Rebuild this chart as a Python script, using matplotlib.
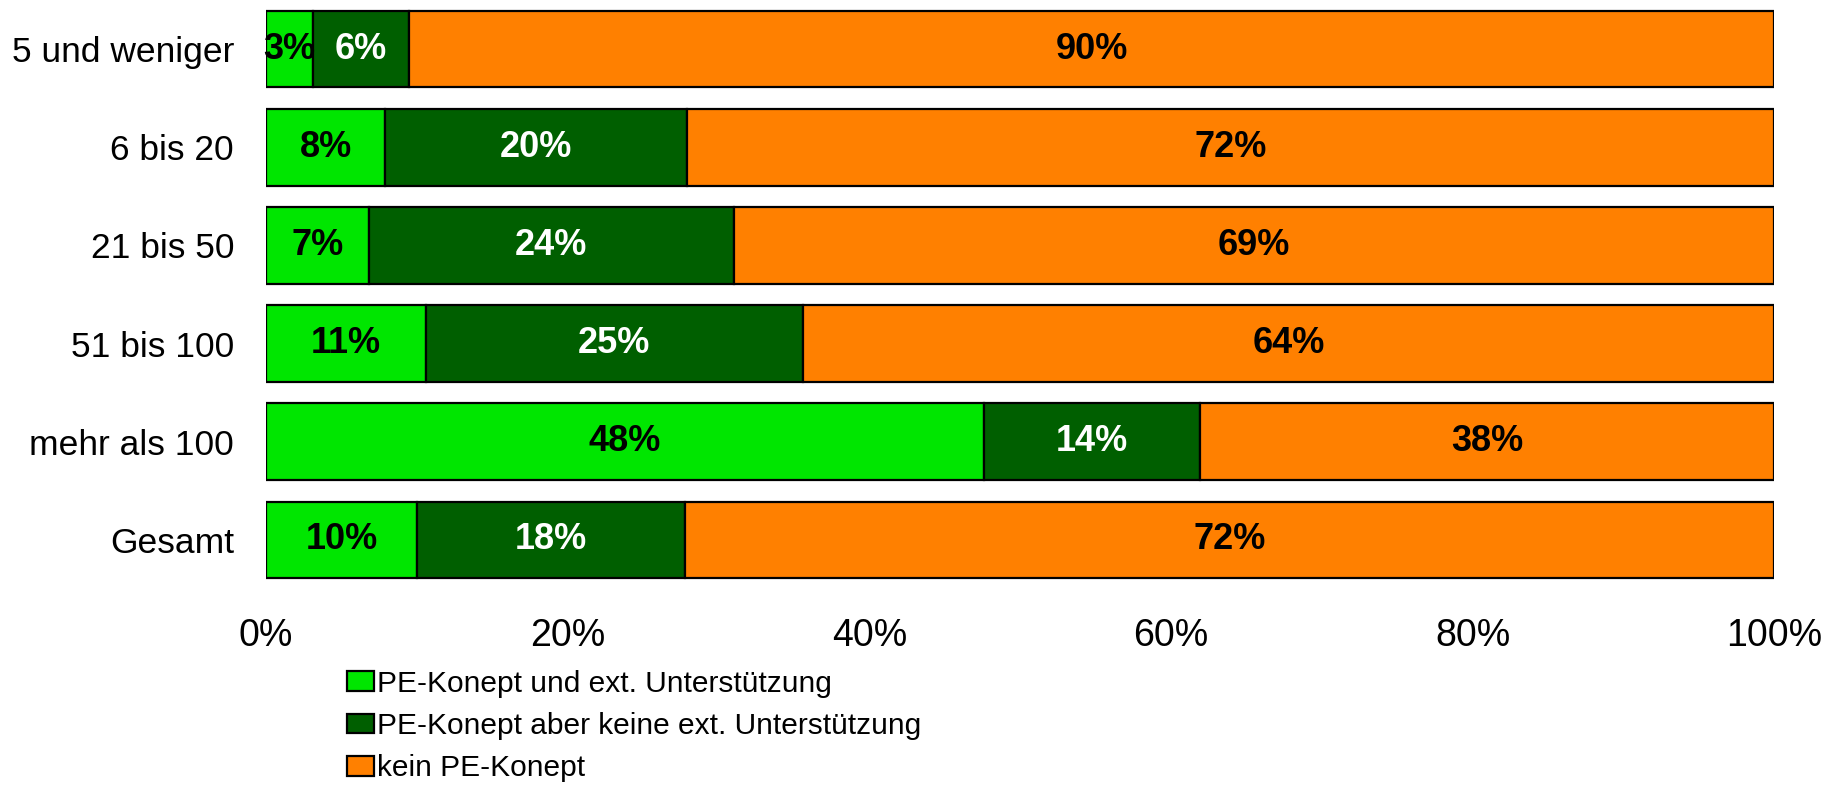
import matplotlib
matplotlib.use("Agg")
import matplotlib.pyplot as plt
from matplotlib.patches import Patch

plt.rcParams['font.family'] = ['Liberation Sans', 'DejaVu Sans']

categories = ["5 und weniger", "6 bis 20", "21 bis 50", "51 bis 100", "mehr als 100", "Gesamt"]
ext_support = [3.1, 7.9, 6.8, 10.6, 47.6, 10.0]
no_ext_support = [6.4, 20.0, 24.2, 25.0, 14.3, 17.8]
no_concept = [90.5, 72.1, 69.0, 64.4, 38.1, 72.2]
series_names = ["PE-Konept und ext. Unterstützung",
                "PE-Konept aber keine ext. Unterstützung",
                "kein PE-Konept"]
colors = ["#00E600", "#005F00", "#FF8000"]
text_colors = ["black", "white", "black"]
xticks = [0, 20, 40, 60, 80, 100]
xticklabels = ["0%", "20%", "40%", "60%", "80%", "100%"]

fig = plt.figure(figsize=(18.31, 7.86), dpi=100)
ax = fig.add_axes([0.1453, 0.2506, 0.8237, 0.7494])

ypos = list(range(len(categories)))
left = [0.0] * len(categories)
for vals, col, tcol in zip([ext_support, no_ext_support, no_concept], colors, text_colors):
    ax.barh(ypos, vals, left=left, height=0.78, color=col, edgecolor="black", linewidth=1.6)
    for y, v, l in zip(ypos, vals, left):
        ax.text(l + v / 2, y, f"{round(v):d}%", ha="center", va="center",
                fontsize=26, fontweight="bold", color=tcol)
    left = [a + b for a, b in zip(left, vals)]

ax.set_xlim(0, 100)
ax.set_ylim(len(categories) - 0.5, -0.5)
ax.set_yticks(ypos)
ax.set_yticklabels(categories, fontsize=25.5)
ax.set_xticks(xticks)
ax.set_xticklabels(xticklabels, fontsize=27)
ax.tick_params(axis="both", length=0)
ax.tick_params(axis="y", pad=23)
ax.tick_params(axis="x", pad=21)
for s in ax.spines.values():
    s.set_visible(False)

handles = [Patch(facecolor=c, edgecolor="black", linewidth=1.6) for c in colors]
fig.legend(handles, series_names, loc="upper left", bbox_to_anchor=(0.1895, 0.148),
           frameon=False, fontsize=21.5, handlelength=0.9, handleheight=0.62,
           handletextpad=0.12, labelspacing=0.48, borderpad=0, borderaxespad=0)

fig.savefig("out.png", dpi=100)
